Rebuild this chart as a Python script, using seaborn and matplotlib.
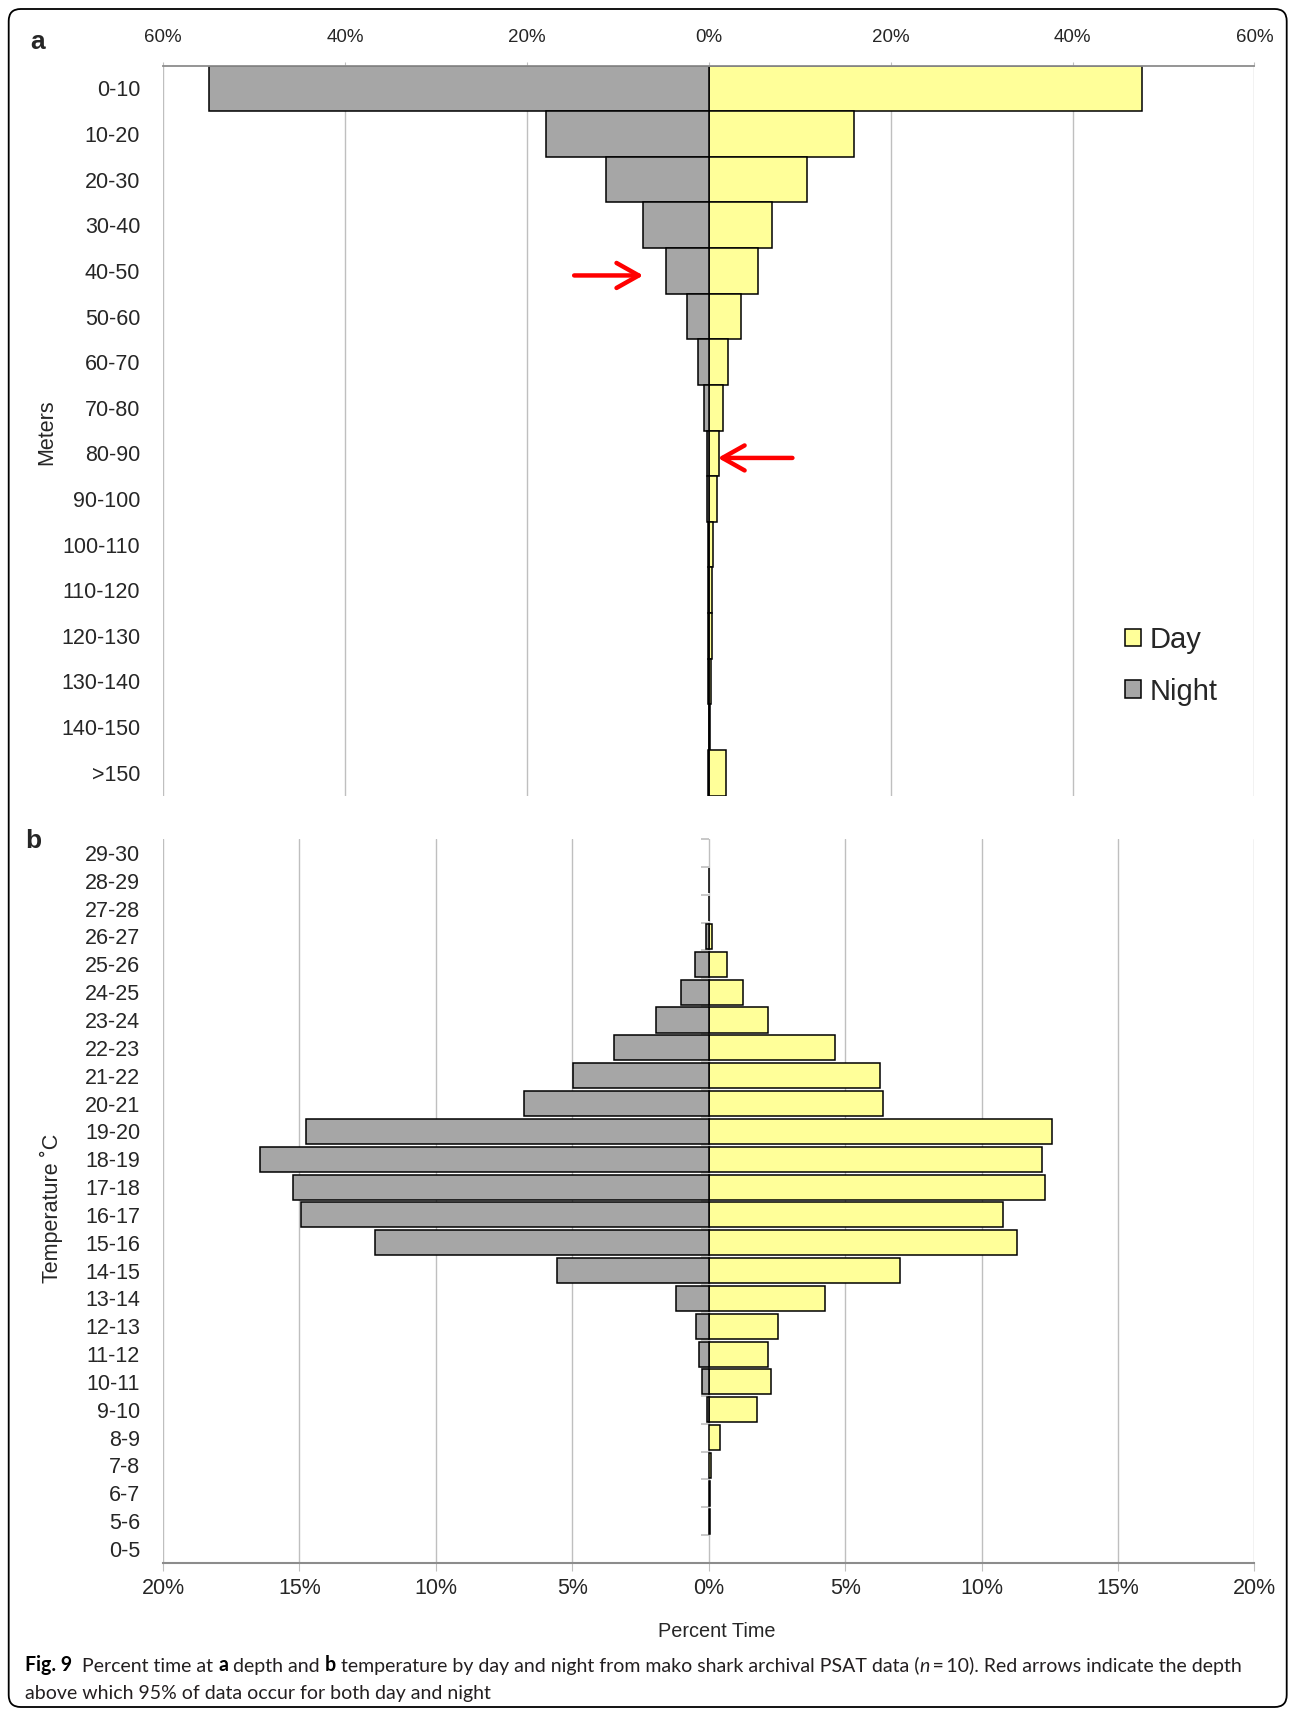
import numpy as np
import pandas as pd
import matplotlib
matplotlib.use("Agg")
import matplotlib.pyplot as plt
import seaborn as sns
from matplotlib.patches import Patch, FancyBboxPatch
from matplotlib.text import Annotation
from matplotlib.ticker import FuncFormatter

sns.set_style("white")
plt.rcParams['font.family'] = ['Liberation Sans', 'DejaVu Sans']

DAY = "#FFFF99"
NIGHT = "#A6A6A6"
GRID = "#BFBFBF"
AXIS = "#8C8C8C"

# panel a: percent time at depth
depth_bins = ["0-10", "10-20", "20-30", "30-40", "40-50", "50-60", "60-70", "70-80",
              "80-90", "90-100", "100-110", "110-120", "120-130", "130-140", "140-150", ">150"]
depth_day = [47.6, 16.0, 10.8, 7.0, 5.4, 3.5, 2.1, 1.55, 1.1, 0.95, 0.45, 0.37, 0.35, 0.25, 0.18, 1.95]
depth_night = [55.0, 17.9, 11.3, 7.2, 4.7, 2.4, 1.17, 0.5, 0.22, 0.15, 0.07, 0.05, 0.04, 0.03, 0.02, 0.1]

# panel b: percent time at temperature
temp_bins = ["29-30", "28-29", "27-28", "26-27", "25-26", "24-25", "23-24", "22-23", "21-22",
             "20-21", "19-20", "18-19", "17-18", "16-17", "15-16", "14-15", "13-14", "12-13",
             "11-12", "10-11", "9-10", "8-9", "7-8", "6-7", "5-6", "0-5"]
temp_day = [0, 0.02, 0.02, 0.12, 0.68, 1.27, 2.18, 4.61, 6.29, 6.37, 12.58, 12.22, 12.34,
            10.78, 11.30, 7.01, 4.25, 2.53, 2.16, 2.28, 1.76, 0.41, 0.1, 0.03, 0.03, 0]
temp_night = [0, 0, 0, 0.09, 0.52, 1.02, 1.93, 3.49, 4.97, 6.77, 14.75, 16.43, 15.23,
              14.95, 12.22, 5.57, 1.20, 0.48, 0.36, 0.24, 0.08, 0, 0, 0, 0, 0]

# red arrows: (row, tail %, head %)
arrows_a = [(4.1, -14.8, -7.2), (8.1, 9.2, 1.0)]

caption1 = [("Fig. 9", "b"), ("  Percent time at ", ""), ("a", "b"), (" depth and ", ""), ("b", "b"),
            (" temperature by day and night from mako shark archival PSAT data (", ""), ("n", "i"),
            ("\u2009=\u200910). Red arrows indicate the depth", "")]
caption2 = [("above which 95% of data occur for both day and night", "")]

fig = plt.figure(figsize=(12.95, 17.13), dpi=100)


def draw_bars(ax, bins, day, night, width):
    df = pd.DataFrame({"bin": bins, "day": day, "night": [-v for v in night]})
    d = df[df["day"] > 0]
    n = df[df["night"] < 0]
    sns.barplot(data=d, x="day", y="bin", order=bins, orient="h", color=DAY, saturation=1,
                edgecolor="black", linewidth=1.1, width=width, ax=ax)
    sns.barplot(data=n, x="night", y="bin", order=bins, orient="h", color=NIGHT, saturation=1,
                edgecolor="black", linewidth=1.1, width=width, ax=ax)
    ax.set_xlabel("")
    ax.set_ylabel("")
    ax.set_ylim(len(bins) - 0.5, -0.5)
    ax.set_axisbelow(True)
    ax.grid(axis="x", color=GRID, lw=1)
    ax.grid(axis="y", visible=False)
    ax.xaxis.set_major_formatter(FuncFormatter(lambda v, p: "{:.0f}%".format(abs(v))))
    ax.tick_params(axis="y", length=0, pad=16.5, labelsize=15.5)
    for s in ax.spines.values():
        s.set_visible(False)


# ---- panel a ----
ax1 = fig.add_axes([0.1259, 0.5356, 0.8428, 0.4261])
draw_bars(ax1, depth_bins, depth_day, depth_night, 1.0)
ax1.set_xlim(-60, 60)
ax1.set_xticks(np.arange(-60, 61, 20))
ax1.xaxis.tick_top()
ax1.tick_params(axis="x", top=True, length=3, color=GRID, pad=11, labelsize=13.5)
ax1.spines["top"].set_visible(True)
ax1.spines["top"].set_color(AXIS)
ax1.spines["top"].set_linewidth(1.3)

for y, x0, x1 in arrows_a:
    ax1.annotate("", xy=(x1, y), xytext=(x0, y),
                 arrowprops=dict(arrowstyle="->,head_length=0.8,head_width=0.45", color="#FF0000",
                                 lw=3.2, mutation_scale=20, shrinkA=0, shrinkB=0))

handles = [Patch(facecolor=DAY, edgecolor="black", lw=1.1), Patch(facecolor=NIGHT, edgecolor="black", lw=1.1)]
ax1.legend(handles, ["Day", "Night"], loc="center left", bbox_to_anchor=(0.881, 0.178),
           frameon=False, fontsize=21, handlelength=0.55, handleheight=0.55,
           handletextpad=0.3, labelspacing=0.82, borderpad=0, borderaxespad=0)

# ---- panel b ----
ax2 = fig.add_axes([0.1259, 0.0876, 0.8428, 0.4226])
draw_bars(ax2, temp_bins, temp_day, temp_night, 0.9)
ax2.set_xlim(-20, 20)
ax2.set_xticks(np.arange(-20, 21, 5))
ax2.tick_params(axis="x", bottom=True, length=6, color=GRID, pad=5, labelsize=15.5)
ax2.spines["bottom"].set_visible(True)
ax2.spines["bottom"].set_color(AXIS)
ax2.spines["bottom"].set_linewidth(1.5)

# zero axis with category boundary ticks
sec = ax2.secondary_yaxis(0.5)
sec.set_yticks(np.arange(-0.5, len(temp_bins), 1))
sec.set_yticklabels([])
sec.yaxis.set_ticks_position("left")
sec.tick_params(direction="out", length=6, color=GRID, width=1.2)
sec.spines["left"].set_color(AXIS)
sec.spines["left"].set_linewidth(1.3)
for k in ["right", "top", "bottom"]:
    sec.spines[k].set_visible(False)

# ---- labels ----
fig.text(0.0363, 0.7478, "Meters", rotation=90, ha="center", va="center", fontsize=15.5)
fig.text(0.0394, 0.2948, "Temperature \u02daC", rotation=90, ha="center", va="center", fontsize=15.5)
fig.text(0.5537, 0.0473, "Percent Time", ha="center", va="center", fontsize=14.3)
fig.text(38 / 1295, 1 - 42 / 1713, "a", ha="center", va="center", fontsize=19, weight="bold")
fig.text(33 / 1295, 1 - 841 / 1713, "b", ha="center", va="center", fontsize=19, weight="bold")

# ---- caption ----
CAP_FS = 14.05


def caption_line(parts, x, y):
    prev = None
    for txt, st in parts:
        kw = dict(fontsize=CAP_FS, color="#231F20", family=["Lato", "DejaVu Sans"])
        if st == "b":
            kw["weight"] = "bold"
            kw["color"] = "black"
        if st == "i":
            kw["style"] = "italic"
        if prev is None:
            prev = fig.text(x, y, txt, ha="left", va="center", **kw)
        else:
            prev = fig.add_artist(Annotation(txt, xy=(1, 0), xycoords=prev, ha="left", va="bottom", **kw))


caption_line(caption1, 25 / 1295, 1 - 1665 / 1713)
caption_line(caption2, 25 / 1295, 1 - 1693 / 1713)

# rounded frame
fig.add_artist(FancyBboxPatch((0.087, 0.06), 12.78, 16.98, boxstyle="round,pad=0,rounding_size=0.12",
                              transform=fig.dpi_scale_trans, facecolor="none", edgecolor="black", lw=1.3))

fig.savefig("out.png", dpi=100)
